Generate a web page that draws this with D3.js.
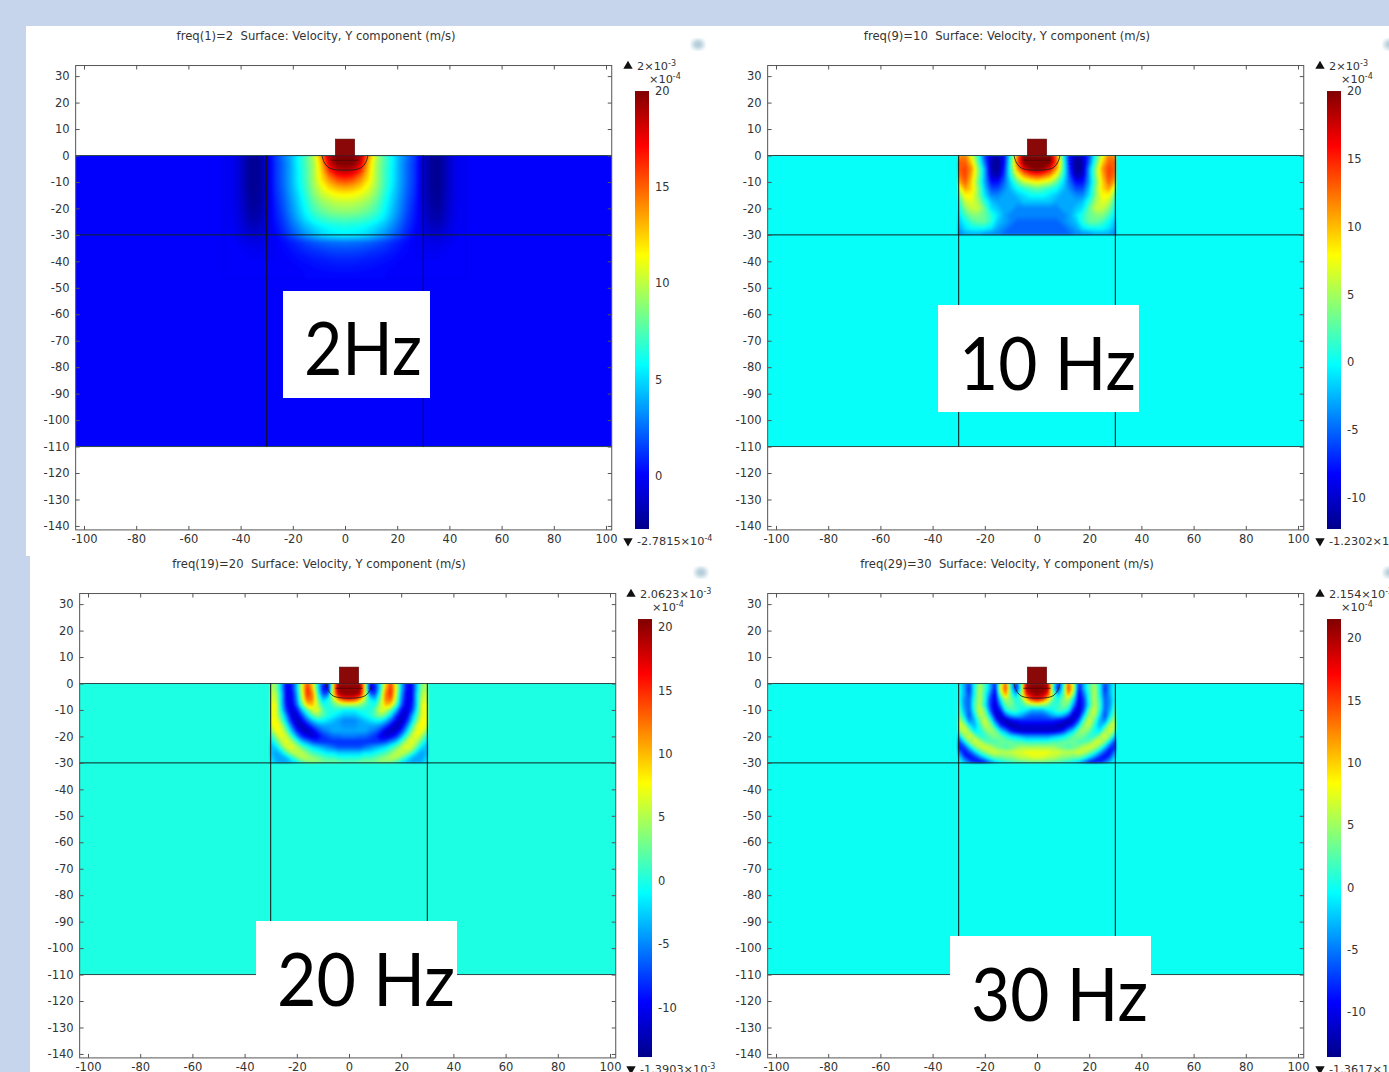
<!DOCTYPE html>
<html><head><meta charset="utf-8">
<script src="https://cdnjs.cloudflare.com/ajax/libs/d3/7.8.5/d3.min.js"></script>
<style>html,body{margin:0;padding:0;background:#c6d5ec;overflow:hidden}svg{display:block}text{font-family:"DejaVu Sans";fill:#333}</style>
</head><body><svg id="c" width="1389" height="1072"></svg>
<script>
// ---- values (all fields in units of 1e-4 m/s; half-domain rows from y=0 downward, columns from x=0 outward)
const freqTitles = ["freq(1)=2  Surface: Velocity, Y component (m/s)","freq(9)=10  Surface: Velocity, Y component (m/s)","freq(19)=20  Surface: Velocity, Y component (m/s)","freq(29)=30  Surface: Velocity, Y component (m/s)"];
const freqLabels = ["2Hz","10 Hz","20 Hz","30 Hz"];
const maxLabels = ["2×10","2×10","2.0623×10","2.154×10"];
const minLabels = ["-2.7815×10","-1.2302×10","-1.3903×10","-1.3617×10"];
const minExps = ["-4","-3","-3","-3"];
const fieldMax = [20,20,20.62,21.54];
const fieldMin = [-2.78,-12.3,-13.9,-13.6];
const xTicks = [-100,-80,-60,-40,-20,0,20,40,60,80,100];
const yTicks = [30,20,10,0,-10,-20,-30,-40,-50,-60,-70,-80,-90,-100,-110,-120,-130,-140];
const barTicks = [[20,15,10,5,0],[20,15,10,5,0,-5,-10],[20,15,10,5,0,-5,-10],[20,15,10,5,0,-5,-10]];
const stepSizes = [3,2.5,2,2];
const field2Hz = [
[20,20,19,14,10,7.5,5.8,4,2.6,1.2,-1,-2.4,-2.6,-1.5,-.5,-.1],
[20,20,18,13,9.5,7.5,5.8,3.8,2.3,1,-1.2,-2.4,-2.6,-1.5,-.5,-.1],
[18.5,18,16,12.5,9.5,7.3,5.6,3.8,2.3,1,-1.2,-2.4,-2.6,-1.5,-.5,-.1],
[16,15.5,14,12,9.5,7.3,5.6,3.8,2.3,1,-1.2,-2.4,-2.6,-1.5,-.5,-.1],
[13.5,13.2,12.4,11,9.2,7.1,5.4,3.7,2.2,.9,-1.2,-2.4,-2.6,-1.5,-.5,-.1],
[11.5,11.3,10.8,10,8.6,6.7,5,3.5,2,.8,-1.2,-2.3,-2.5,-1.4,-.5,-.1],
[10,9.9,9.5,8.9,7.8,6.2,4.7,3.2,1.8,.6,-1.1,-2.2,-2.4,-1.3,-.5,-.1],
[9,8.9,8.6,8,7.2,5.8,4.4,3,1.6,.5,-1,-2,-2.2,-1.2,-.4,-.1],
[7.5,7.4,7.2,6.8,6.2,5.2,3.9,2.6,1.3,.4,-.9,-1.8,-1.9,-1.1,-.4,-.1],
[6.2,6.1,5.9,5.5,4.9,4.2,3.2,2.1,1,.2,-.8,-1.4,-1.5,-.9,-.3,-.1],
[5.5,5.4,5.2,4.8,4.1,3.4,2.5,1.6,.7,0,-.6,-1,-1,-.6,-.3,0],
[2.6,2.5,2.4,2.2,1.9,1.5,1,.6,.2,-.1,-.4,-.5,-.5,-.3,-.1,0],
[1.6,1.6,1.5,1.3,1.1,.9,.6,.3,.1,-.1,-.2,-.3,-.2,-.1,0,0],
[.9,.9,.8,.7,.6,.4,.3,.1,0,-.1,-.1,-.1,-.1,0,0,0],
[.5,.5,.4,.4,.3,.2,.1,0,0,0,0,0,0,0,0,0],
[.2,.2,.2,.1,.1,.1,0,0,0,0,0,0,0,0,0,0]];
const field10Hz = [
[21,21,20,12,1,-8,-11,-10,-6,1,7,12,11],
[21,21,20,13,2,-8,-12,-11,-5,2,9,13,13],
[20,19,16,11,2,-7,-12,-11,-3,4,11,14,13],
[14,13,11,7,1,-6,-11,-10,-3,4,10,14,12],
[8,7,6,3,-1,-5,-8,-8,-3,3,9,13,10],
[3,2,1,0,-2,-4,-6,-6,-2,4,9,11,6],
[0,0,-1,-2,-3,-3,-4,-4,-1,4,8,8,3],
[-2,-2,-2,-3,-3,-3,-3,-2,1,5,7,6,1],
[-4,-4,-4,-4,-3,-3,-2,-1,3,6,6,4,0],
[-4,-4,-4,-4,-4,-3,-1,1,3,4,4,2,-1],
[-5,-5,-5,-5,-4,-3,-2,1,3,3,2,0,-2],
[-5,-5,-5,-5,-5,-4,-3,-1,0,0,0,-1,-3],
[-5,-5,-5,-5,-5,-5,-4,-4,-4,-3,-3,-3,-4]];
const field20Hz = [
[20,20,20,8,-10,-8,-1,9,14,7,-3,-9,-10,-3,4,5],
[20,20,20,8,-11,-9,-1,10,15,7,-3,-9,-10,-3,4,5],
[20,20,18,8,-6,-7,1,12,15,6,-4,-10,-10,-2,5,6],
[15,14,11,5,-1,-3,3,12,13,5,-5,-10,-10,-2,6,6],
[5,5,4,2,0,0,5,10,9,2,-6,-11,-9,-2,7,7],
[-1,-1,0,0,0,2,7,6,2,-3,-9,-11,-8,-1,7,7],
[-3,-3,-2,-1,0,2,4,2,-2,-7,-11,-11,-5,1,7,7],
[-5,-5,-4,-3,-2,-1,-1,-3,-6,-10,-12,-9,-3,3,8,7],
[-4.5,-4.5,-4,-4,-4,-4,-5,-7,-10,-12,-11,-6,0,6,8,6],
[-4,-4,-4,-4,-5,-6,-8,-11,-12,-11,-8,-3,3,7,7,3],
[-5.5,-5.5,-6,-6,-7,-8,-10,-11,-10,-8,-4,1,6,7,4,0],
[-8,-8,-8,-8,-8,-8,-8,-7,-5,-3,1,5,7,5,1,-2],
[-7,-7,-7,-6,-5,-4,-3,-2,0,2,5,7,6,2,-2,-3],
[-3,-3,-3,-2,-2,-1,0,1,3,5,6,5,2,-2,-4,-3],
[0,0,0,1,1,2,3,4,5,5,3,0,-3,-4,-4,-2],
[2,2,3,3,3,3,4,4,3,1,-2,-3,-4,-4,-3,-1]];
const field30Hz = [
[21,21,20,3,-8,-1,14,6,-8,-3,2,5,0,-7,-3,0],
[21,21,20,2,-9,0,15,7,-9,-3,2,6,0,-8,-3,1],
[21,20,16,5,-4,2,12,4,-10,-5,1,6,0,-7,-3,1],
[17,15,10,3,0,4,6,-1,-10,-7,1,6,1,-6,-4,1],
[6,5,4,1,1,4,3,-4,-11,-7,0,6,2,-6,-4,2],
[-3,-3,-1,0,2,2,0,-8,-11,-6,3,7,1,-6,-3,3],
[-6,-6,-5,-3,-2,-3,-6,-11,-10,-2,5,6,-1,-7,-1,4],
[-8,-8,-8,-8,-9,-10,-12,-11,-6,2,7,3,-3,-5,2,6],
[-11,-11,-11,-11,-12,-12,-10,-7,-1,5,6,1,-3,0,6,7],
[-11,-11,-11,-11,-10,-8,-4,-1,4,5,3,0,-1,5,7,3],
[-4,-4,-4,-3,-2,-1,1,3,4,3,1,1,5,7,4,-3],
[1,1,1,2,2,3,3,3,2,2,3,6,7,4,-2,-7],
[5,5,5,5,4,3,2,3,4,6,7,6,3,-2,-7,-8],
[8,8,8,7,7,6,6,6,7,6,4,1,-3,-7,-9,-4],
[7,7,6,6,5,4,4,3,3,1,-2,-5,-8,-9,-6,-1],
[3,3,3,2,2,1,0,-1,-3,-6,-9,-10,-8,-5,-2,0]];
const fields = [field2Hz,field10Hz,field20Hz,field30Hz];
const soilX = [-8.8,-8,-6.5,-4,4,6.5,8,8.8];
const soilY = [0,-2.5,-4.4,-5.3,-5.3,-4.4,-2.5,0];

// ---- layout
const layout = [
 {x0:345, y0:155.5, bar:635, clipAll:true},
 {x0:1037,y0:155.5, bar:1327},
 {x0:349, y0:683.5, bar:638},
 {x0:1037,y0:683.5, bar:1327}];
const titleCx=[316,1007,319,1007];
const boxes=[[283,291,147,107,304,375,118],[938,305,201,107,959,390,177],[256,921,201,107,277,1006,178],[950,936,201,107,971,1021,177]];
const PXX=2.61, PXY=2.646, stops=[0,.125,.375,.625,.875,1], ramp=["#00008a","#0000ff","#00ffff","#ffff00","#ff0000","#800000"];

const svg=d3.select("#c");
const defs=svg.append("defs");
const blur=defs.append("filter").attr("id","bl");blur.append("feGaussianBlur").attr("stdDeviation",2);
const soft=defs.append("filter").attr("id","soft").attr("color-interpolation-filters","sRGB");soft.append("feGaussianBlur").attr("stdDeviation",1);
svg.append("rect").attr("width",1389).attr("height",1072).attr("fill","#c6d5ec");
svg.append("rect").attr("x",26).attr("y",26).attr("width",1363).attr("height",530).attr("fill","#fff");
svg.append("rect").attr("x",30).attr("y",555).attr("width",1359).attr("height",517).attr("fill","#fff");
const plain=d=>String(d);

layout.forEach((L,k)=>{
  const g=svg.append("g");
  const x=d3.scaleLinear().domain([-100,100]).range([L.x0-100*PXX,L.x0+100*PXX]);
  const y=d3.scaleLinear().domain([30,-140]).range([L.y0-30*PXY,L.y0+140*PXY]);
  const lo=fieldMin[k],hi=fieldMax[k];
  const color=d3.scaleLinear().domain(stops.map(t=>lo+t*(hi-lo))).range(ramp);
  const fl=-103.2,fr=102.2,ft=34,fb=-141.5;
  g.append("rect").attr("x",x(fl)).attr("y",y(0)).attr("width",x(fr)-x(fl)).attr("height",y(-110)-y(0)).attr("fill",color(0));
  const grid=fields[k],step=stepSizes[k],n=grid[0].length,m=grid.length,values=[];
  grid.forEach(r=>{for(let i=-(n-1);i<=n-1;i++)values.push(r[Math.abs(i)]);});
  const th=d3.range(120).map(i=>lo+(hi-lo)*i/119);
  const cs=d3.contours().size([2*n-1,m]).thresholds(th)(values);
  const proj=d3.geoTransform({point(cx,cy){this.stream.point(x((cx-0.5-(n-1))*step),y(-(cy-0.5)*step));}});
  const path=d3.geoPath(proj);
  const cid="clip"+k, oid="outer"+k;
  const cr=defs.append("clipPath").attr("id",cid).append("rect");
  if(L.clipAll) cr.attr("x",x(fl)).attr("y",y(0)).attr("width",x(fr)-x(fl)).attr("height",y(-110)-y(0));
  else cr.attr("x",x(-30)).attr("y",y(0)).attr("width",x(30)-x(-30)).attr("height",y(-30)-y(0));
  defs.append("clipPath").attr("id",oid).append("rect").attr("x",x(fl)).attr("y",y(0)).attr("width",x(fr)-x(fl)).attr("height",y(-110)-y(0));
  g.append("g").attr("clip-path",`url(#${oid})`).append("g").attr("filter","url(#soft)").append("g").attr("clip-path",`url(#${cid})`).selectAll("path").data(cs).join("path")
    .attr("d",path).attr("fill",d=>color(Math.min(hi,d.value+(hi-lo)/238)));
  const ln=(a,b,c,d,w=1,col="#111")=>g.append("line").attr("x1",x(a)).attr("y1",y(b)).attr("x2",x(c)).attr("y2",y(d)).attr("stroke",col).attr("stroke-width",w);
  ln(fl,0,fr,0,1,"#2b4a4a");ln(fl,-30,fr,-30,1,"#112222");ln(fl,-110,fr,-110,1,"#2b4a4a");
  ln(-30,0,-30,-110);ln(30,0,30,-110);
  g.append("rect").attr("x",x(-3.7)).attr("y",y(6.2)).attr("width",x(3.7)-x(-3.7)).attr("height",y(0)-y(6.2)).attr("fill","#8a0808").attr("stroke","#5a0505").attr("stroke-width",.6);
  ln(-5.2,-1.8,5.2,-1.8,.8,"#4a0404");
  const arc=d3.line().x((d,i)=>x(d)).y((d,i)=>y(soilY[i])).curve(d3.curveCatmullRom);
  g.append("path").attr("d",arc(soilX)).attr("fill","none").attr("stroke","#222").attr("stroke-width",.9);
  g.append("rect").attr("x",x(fl)).attr("y",y(ft)).attr("width",x(fr)-x(fl)).attr("height",y(fb)-y(ft)).attr("fill","none").attr("stroke","#555").attr("stroke-width",1);
  const ax=g.append("g").attr("transform",`translate(0,${y(fb)})`).call(d3.axisBottom(x).tickValues(xTicks).tickSize(-4).tickPadding(5).tickFormat(plain));
  const at=g.append("g").attr("transform",`translate(0,${y(ft)})`).call(d3.axisTop(x).tickValues(xTicks).tickSize(-4).tickFormat(""));
  const ay=g.append("g").attr("transform",`translate(${x(fl)},0)`).call(d3.axisLeft(y).tickValues(yTicks).tickSize(-4).tickPadding(6).tickFormat(plain));
  const ar=g.append("g").attr("transform",`translate(${x(fr)},0)`).call(d3.axisRight(y).tickValues(yTicks).tickSize(-4).tickFormat(""));
  [ax,at,ay,ar].forEach(a=>{a.select(".domain").remove();a.selectAll("line").attr("stroke","#555");a.selectAll("text").attr("font-size",11.5).attr("font-family","DejaVu Sans").attr("fill","#333");});
  g.append("text").attr("x",titleCx[k]).attr("y",y(ft)-26).attr("text-anchor","middle").attr("font-size",11.6).style("white-space","pre").text(freqTitles[k]);
  const top=y(ft)+25.5,bot=top+438;
  const bar=d3.scaleLinear().domain([lo,hi]).range([bot,top]);
  const gid="grad"+k;
  const gr=defs.append("linearGradient").attr("id",gid).attr("x1",0).attr("x2",0).attr("y1",1).attr("y2",0);
  stops.forEach((t,i)=>gr.append("stop").attr("offset",t).attr("stop-color",ramp[i]));
  g.append("rect").attr("x",L.bar).attr("y",top).attr("width",14).attr("height",bot-top).attr("fill",`url(#${gid})`);
  const ab=g.append("g").attr("transform",`translate(${L.bar+14},0)`).call(d3.axisRight(bar).tickValues(barTicks[k]).tickSize(0).tickPadding(6).tickFormat(plain));
  ab.select(".domain").remove();ab.selectAll("text").attr("font-size",11.5).attr("font-family","DejaVu Sans").attr("fill","#333");
  const sup=(t,ax0,ay0,base,exp)=>{const s=t.append("text").attr("x",ax0).attr("y",ay0).attr("font-size",11.3).text(base);
    s.append("tspan").attr("dy",-4).attr("font-size",8).text(exp);};
  const ty=top-21, by=bot+16;
  g.append("path").attr("d",d3.symbol(d3.symbolTriangle,38)()).attr("transform",`translate(${L.bar-7},${ty-4})`).attr("fill","#111");
  sup(g,L.bar+2,ty,maxLabels[k],"-3");
  sup(g,L.bar+14,ty+13,"×10","-4");
  g.append("path").attr("d",d3.symbol(d3.symbolTriangle,38)()).attr("transform",`translate(${L.bar-7},${by-4}) rotate(180)`).attr("fill","#111");
  sup(g,L.bar+2,by,minLabels[k],minExps[k]);
  g.append("ellipse").attr("cx",L.bar+63).attr("cy",y(ft)-21).attr("rx",6).attr("ry",5).attr("fill","#8fb6c9").attr("opacity",.7).attr("filter","url(#bl)");
  const b=boxes[k];
  g.append("rect").attr("x",b[0]).attr("y",b[1]).attr("width",b[2]).attr("height",b[3]).attr("fill","#fff");
  g.append("text").attr("x",b[4]).attr("y",b[5]).attr("font-size",74).attr("textLength",b[6]).attr("lengthAdjust","spacingAndGlyphs").style("font-family","Lato").style("fill","#000").text(freqLabels[k]);
});
</script></body></html>
